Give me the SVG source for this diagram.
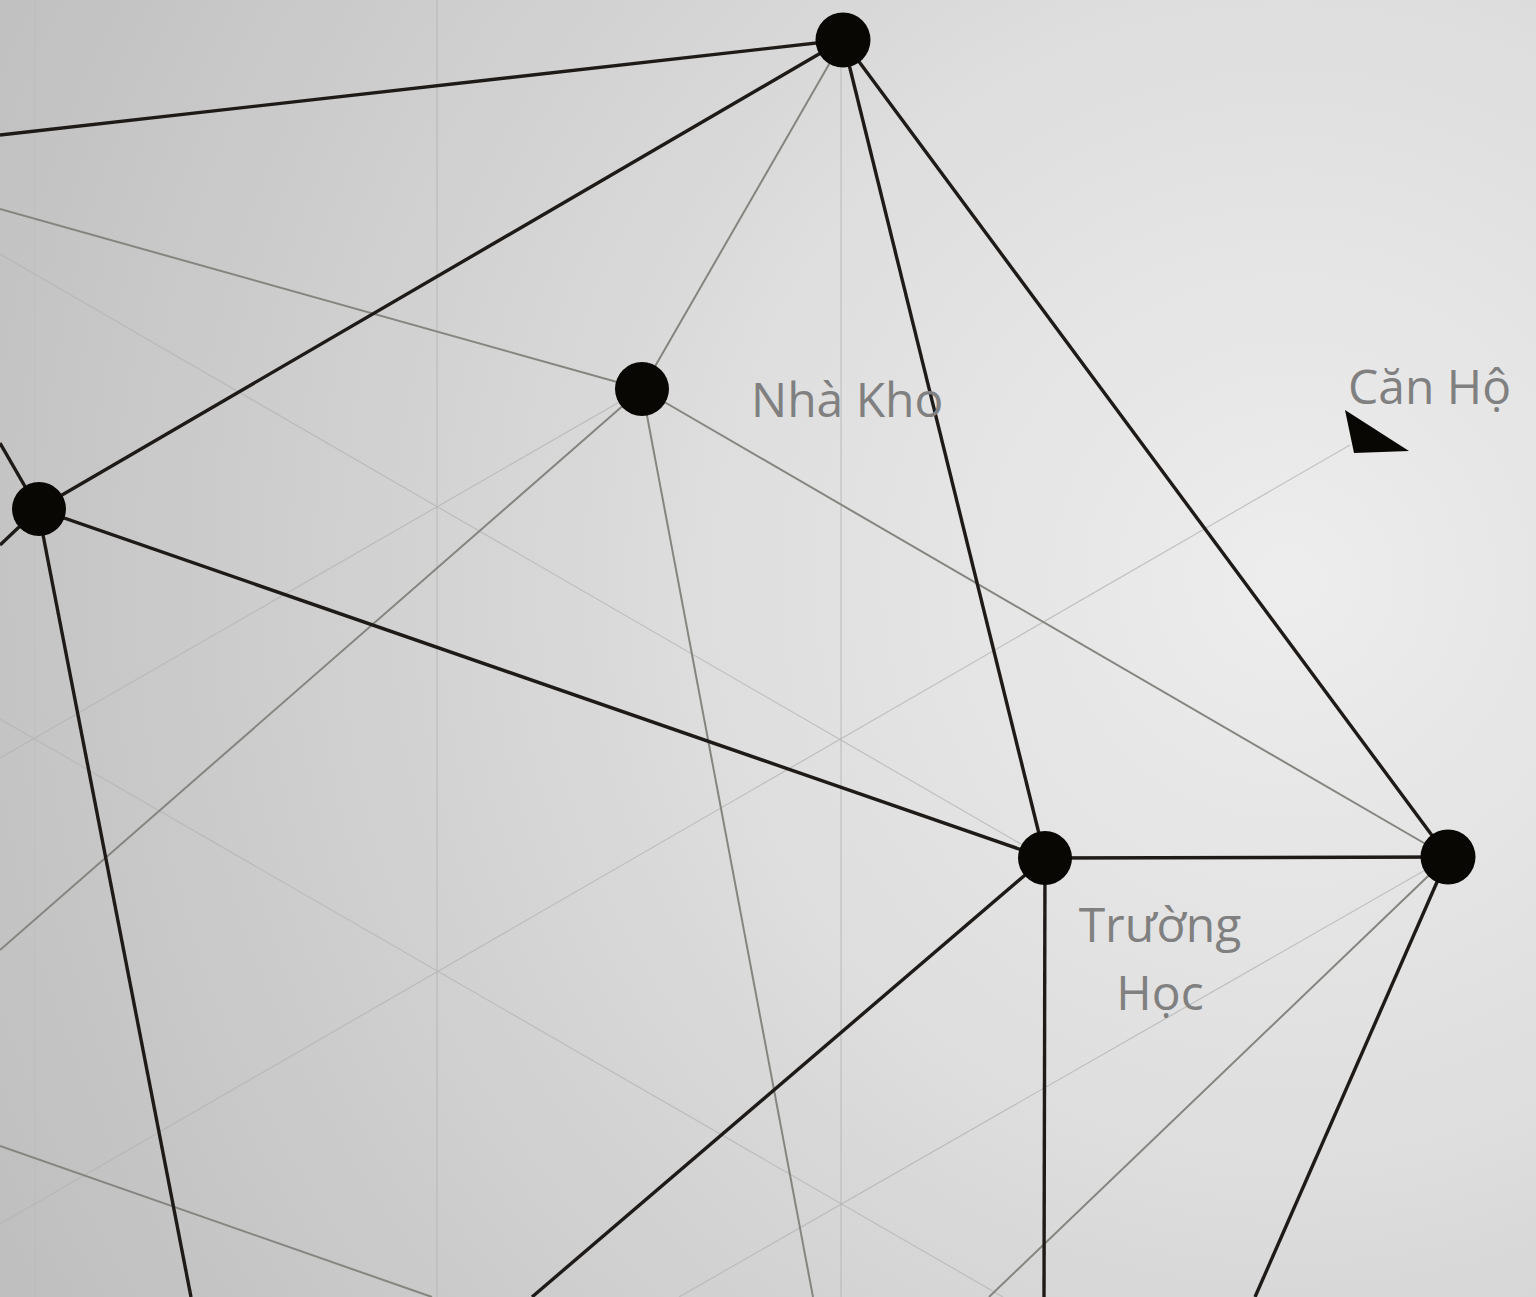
<svg xmlns="http://www.w3.org/2000/svg" width="1536" height="1297" viewBox="0 0 1536 1297">
<defs>
<radialGradient id="bg" gradientUnits="userSpaceOnUse" cx="1290" cy="580" r="1450">
<stop offset="0" stop-color="#ededed"/>
<stop offset="0.4" stop-color="#dedede"/>
<stop offset="0.5" stop-color="#d8d8d8"/>
<stop offset="0.875" stop-color="#c5c5c6"/>
<stop offset="1" stop-color="#bfbfc0"/>
</radialGradient>
<style>
.lat{stroke:#b4b4b4;stroke-width:1.2;fill:none;opacity:0.75}
.latf{stroke:#b8b8b8;stroke-width:1.2;fill:none;opacity:0.35}
.gray{stroke:#858580;stroke-width:2;fill:none}
.blk{stroke:#1e1a18;stroke-width:3.4;fill:none}
.node{fill:#080703}
.lbl{font-family:"Open Sans","Liberation Sans",sans-serif;font-size:48px;fill:#808080}
</style>
</defs>
<rect x="0" y="0" width="1536" height="1297" fill="url(#bg)"/>
<g id="lattice">
<line class="latf" x1="35" y1="0" x2="35" y2="1297"/>
<line class="lat" x1="437" y1="0" x2="437" y2="1297"/>
<line class="lat" x1="841" y1="40" x2="841" y2="1297"/>
<line class="lat" x1="0" y1="254" x2="1045" y2="858"/>
<line class="lat" x1="642" y1="389" x2="0" y2="758"/>
<line class="lat" x1="1350" y1="445" x2="0" y2="1224"/>
<line class="lat" x1="0" y1="719" x2="1003" y2="1297"/>
<line class="lat" x1="1448" y1="857" x2="679" y2="1297"/>
</g>
<g id="connectors">
<line class="gray" x1="843" y1="40" x2="642" y2="389"/>
<line class="gray" x1="642" y1="389" x2="0" y2="209"/>
<line class="gray" x1="642" y1="389" x2="0" y2="950"/>
<line class="gray" x1="642" y1="389" x2="813" y2="1297"/>
<line class="gray" x1="642" y1="389" x2="1448" y2="857"/>
<line class="gray" x1="1448" y1="857" x2="989" y2="1297"/>
<line class="gray" x1="0" y1="1146" x2="432" y2="1297"/>
<line class="blk" x1="843" y1="40" x2="0" y2="135"/>
<line class="blk" x1="843" y1="40" x2="38" y2="509"/>
<line class="blk" x1="843" y1="40" x2="1045" y2="858"/>
<line class="blk" x1="843" y1="40" x2="1448" y2="857"/>
<line class="blk" x1="38" y1="509" x2="1045" y2="858"/>
<line class="blk" x1="38" y1="509" x2="0" y2="443"/>
<line class="blk" x1="38" y1="509" x2="0" y2="545"/>
<line class="blk" x1="38" y1="509" x2="191" y2="1297"/>
<line class="blk" x1="1045" y1="858" x2="1448" y2="857"/>
<line class="blk" x1="1045" y1="858" x2="1044" y2="1297"/>
<line class="blk" x1="1045" y1="858" x2="532" y2="1297"/>
<line class="blk" x1="1448" y1="857" x2="1255" y2="1297"/>
<polygon points="1345,410 1409,451 1354,453" fill="#080703"/>
</g>
<g id="node-top"><circle class="node" cx="843" cy="40" r="27.5"/></g>
<g id="node-nhakho"><circle class="node" cx="642" cy="389" r="27"/><text class="lbl" x="751" y="417">Nhà Kho</text></g>
<g id="node-left"><circle class="node" cx="39" cy="509" r="27"/></g>
<g id="node-truonghoc"><circle class="node" cx="1045" cy="858" r="27"/><text class="lbl" text-anchor="middle"><tspan x="1160" y="942">Trường</tspan><tspan x="1160" y="1010">Học</tspan></text></g>
<g id="node-right"><circle class="node" cx="1448" cy="857" r="27.5"/></g>
<g id="canho"><text class="lbl" x="1348" y="404">Căn Hộ</text></g>
</svg>
